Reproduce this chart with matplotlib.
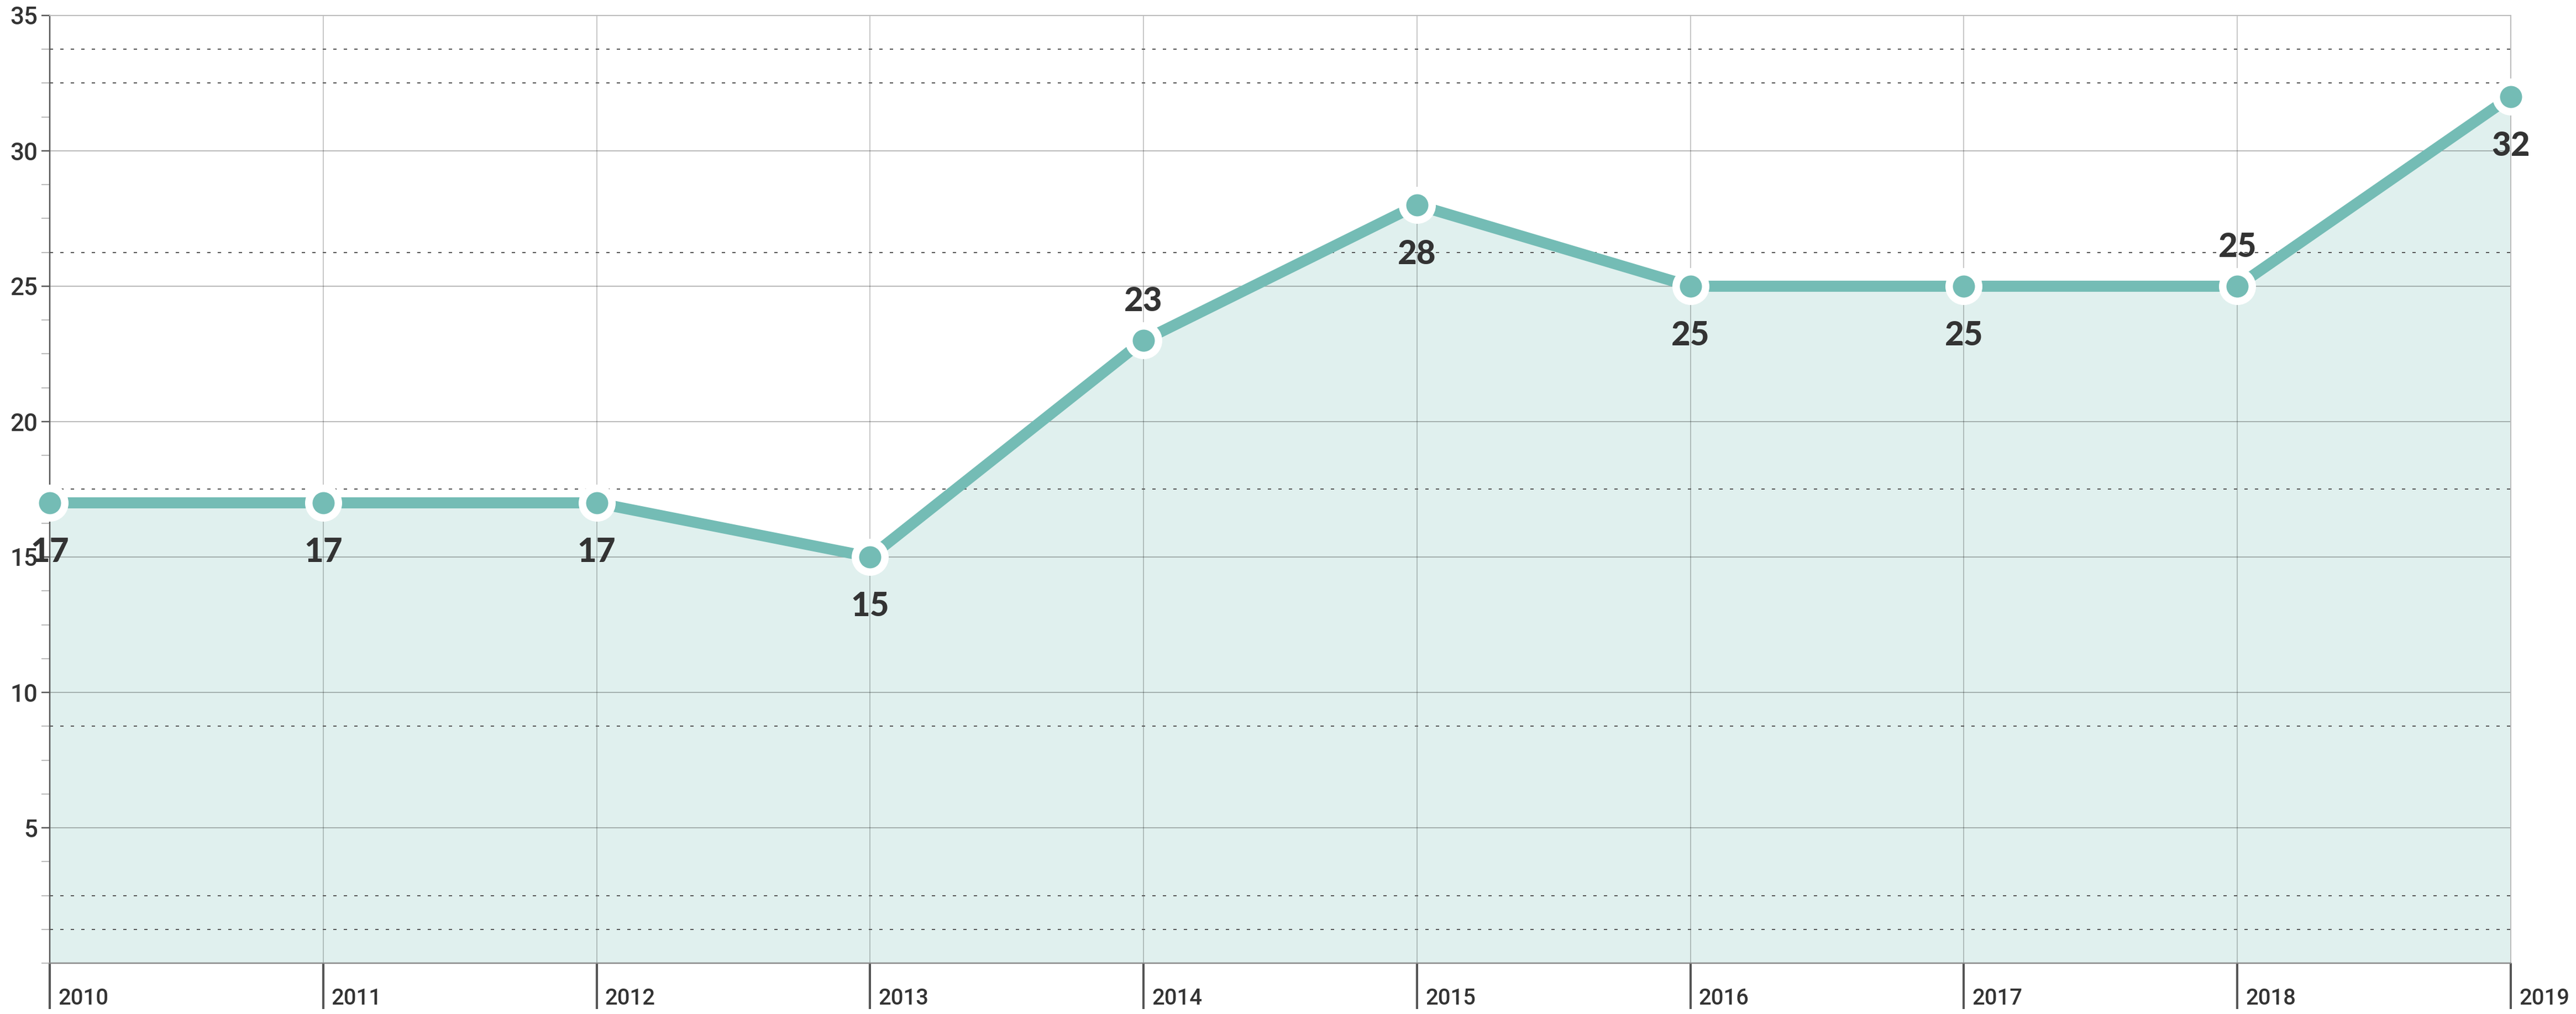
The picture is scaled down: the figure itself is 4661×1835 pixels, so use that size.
import matplotlib
matplotlib.use("Agg")
import matplotlib.pyplot as plt
import numpy as np
from matplotlib.ticker import MultipleLocator, FixedLocator
from matplotlib import transforms

# ---- data ----
years = ["2010", "2011", "2012", "2013", "2014", "2015", "2016", "2017", "2018", "2019"]
values = [17, 17, 17, 15, 23, 28, 25, 25, 25, 32]
label_above = [False, False, False, False, True, False, False, False, True, False]
y_ticks = [5, 10, 15, 20, 25, 30, 35]
dotted_levels = [1.25, 2.5, 8.75, 17.5, 26.25, 32.5, 33.75]

TEAL = "#74BCB5"
FILL = "#E0F0EE"
TXT = "#333333"
DPI = 100
px = 72.0 / DPI  # points per pixel

fig = plt.figure(figsize=(46.61, 18.35), dpi=DPI)
W, H = 4661, 1835
left, right, top, bottom = 90, 4543, 28, 1743
ax = fig.add_axes([left / W, (H - bottom) / H, (right - left) / W, (bottom - top) / H])

x = np.arange(len(years))
ax.set_xlim(x[0], x[-1])
ax.set_ylim(0, 35)

# fill
ax.fill_between(x, 0, values, color=FILL, zorder=1, linewidth=0)

# grid lines
grid_col = (0, 0, 0, 0.27)
for yv in y_ticks[:-1]:
    ax.axhline(yv, color=grid_col, lw=2 * px, zorder=2)
for xi in x:
    ax.axvline(xi, color=grid_col, lw=1.6 * px, zorder=2)
for yv in dotted_levels:
    ax.axhline(yv, color="#555555", lw=2 * px, linestyle=(0, (3, 6.5)), zorder=2)

# spines
for s in ["top", "right"]:
    ax.spines[s].set_color("#bbbbbb")
    ax.spines[s].set_linewidth(2 * px)
ax.spines["left"].set_color("#555555")
ax.spines["left"].set_linewidth(2.5 * px)
ax.spines["bottom"].set_color("#888888")
ax.spines["bottom"].set_linewidth(2.5 * px)
for s in ax.spines.values():
    s.set_zorder(3)

# line + markers
ax.plot(x, values, color=TEAL, lw=20 * px, zorder=4, solid_capstyle="butt",
        solid_joinstyle="miter")
ax.plot(x, values, linestyle="none", marker="o", markersize=53.5 * px,
        markerfacecolor=TEAL, markeredgecolor="white", markeredgewidth=13.5 * px,
        zorder=5, clip_on=False)

# data labels
for xi, v, above in zip(x, values, label_above):
    dy = 53 * px if above else -107 * px
    ax.annotate(str(v), (xi, v), xytext=(0, dy), textcoords="offset points",
                ha="center", va="baseline", fontsize=60 * px, fontfamily="Lato",
                fontweight="black", color=TXT, zorder=6, annotation_clip=False)

# y axis ticks
ax.yaxis.set_major_locator(FixedLocator(y_ticks))
ax.yaxis.set_minor_locator(MultipleLocator(1.25))
ax.set_yticklabels([str(t) for t in y_ticks])
ax.tick_params(axis="y", which="major", length=15 * px, width=2.5 * px, color="#555555",
               pad=7 * px, labelsize=44 * px, labelcolor=TXT)
ax.tick_params(axis="y", which="minor", length=15 * px, width=2 * px, color="#bbbbbb")
for lab in ax.get_yticklabels():
    lab.set_fontfamily("Roboto")
    lab.set_fontweight("medium")

# x axis ticks
ax.set_xticks(x)
ax.set_xticklabels([])
ax.tick_params(axis="x", which="major", length=83 * px, width=4 * px, color="#555555",
               direction="out")
trans = transforms.blended_transform_factory(ax.transData, ax.transAxes)
for xi, yr in zip(x, years):
    ax.text(xi, 0, yr, transform=trans + transforms.ScaledTranslation(
        15 / DPI, -75 / DPI, fig.dpi_scale_trans),
        ha="left", va="baseline", fontsize=40 * px, fontfamily="Roboto",
        fontweight="medium", color=TXT, clip_on=False)

fig.savefig("out.png", dpi=DPI, facecolor="white")
